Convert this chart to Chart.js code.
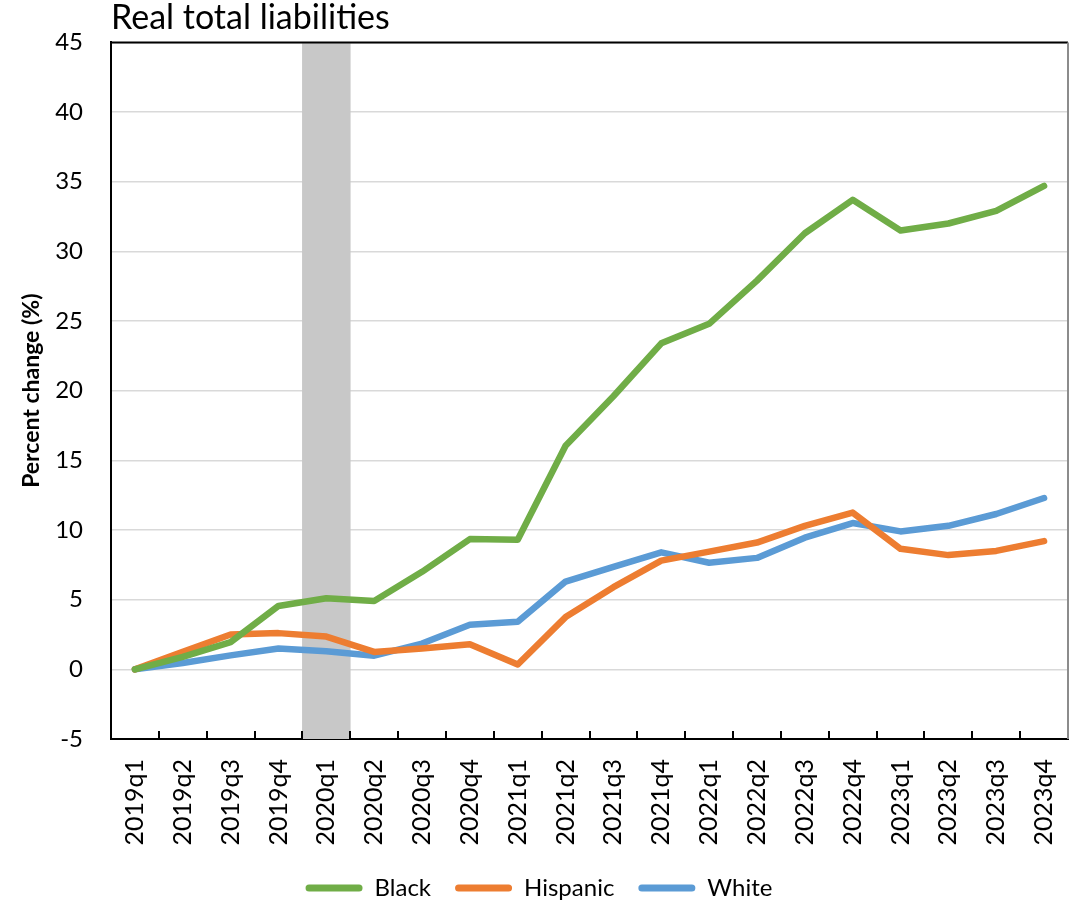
<!DOCTYPE html>
<html>
<head>
<meta charset="utf-8">
<script src="https://cdn.jsdelivr.net/npm/chart.js@4.4.1/dist/chart.umd.min.js"></script>
<style>
  body { margin: 0; background: #ffffff; }
</style>
</head>
<body>
<canvas id="grafico" width="1081" height="906"></canvas>
<script>
// quarters on the x axis
const trimestres = [
  "2019q1", "2019q2", "2019q3", "2019q4",
  "2020q1", "2020q2", "2020q3", "2020q4",
  "2021q1", "2021q2", "2021q3", "2021q4",
  "2022q1", "2022q2", "2022q3", "2022q4",
  "2023q1", "2023q2", "2023q3", "2023q4",
];

// percent change in real total liabilities since 2019q1
const black = [0, 0.9, 1.95, 4.55, 5.1, 4.9, 7.0, 9.35, 9.3, 16.05, 19.6, 23.4, 24.8, 27.9, 31.3, 33.7, 31.5, 32.0, 32.9, 34.7];
const hispanic = [0, 1.25, 2.5, 2.6, 2.35, 1.25, 1.5, 1.8, 0.35, 3.75, 5.9, 7.8, 8.45, 9.1, 10.3, 11.25, 8.65, 8.2, 8.5, 9.2];
const white = [0, 0.45, 1.0, 1.5, 1.3, 0.98, 1.85, 3.2, 3.42, 6.3, 7.35, 8.4, 7.65, 8.0, 9.45, 10.5, 9.9, 10.3, 11.15, 12.3];

// recession shading quarter
const recessao = ["2020q1"];

const yMin = -5;
const yMax = 45;
const yStep = 5;

const faixaRecessao = trimestres.map((t) => (recessao.includes(t) ? [yMin, yMax] : null));

// draws the top / right frame and the inward tick marks on the x axis
const moldura = {
  id: "moldura",
  afterDraw(chart) {
    const { ctx, chartArea } = chart;
    const x = chart.scales.x;
    const meia = (x.getPixelForValue(1) - x.getPixelForValue(0)) / 2;
    ctx.save();
    ctx.lineWidth = 2;
    ctx.strokeStyle = "#000000";
    ctx.beginPath();
    ctx.moveTo(chartArea.left, chartArea.top);
    ctx.lineTo(chartArea.right, chartArea.top);
    ctx.stroke();
    for (let i = 0; i <= trimestres.length; i++) {
      const px = Math.round(x.getPixelForValue(i) - meia);
      ctx.beginPath();
      ctx.moveTo(px, chartArea.bottom);
      ctx.lineTo(px, chartArea.bottom - 8);
      ctx.stroke();
    }
    ctx.strokeStyle = "#8c8c8c";
    ctx.beginPath();
    ctx.moveTo(chartArea.right, chartArea.top);
    ctx.lineTo(chartArea.right, chartArea.bottom);
    ctx.stroke();
    ctx.restore();
  },
};

function plotarGrafico(idGrafico) {
  const ctx = document.getElementById(idGrafico).getContext("2d");
  const linha = (label, data, cor, ordem) => ({
    type: "line",
    label: label,
    data: data,
    borderColor: cor,
    backgroundColor: cor,
    borderWidth: 6.5,
    pointRadius: 0,
    tension: 0,
    borderCapStyle: "round",
    borderJoinStyle: "round",
    order: ordem,
  });

  return new Chart(ctx, {
    type: "bar",
    data: {
      labels: trimestres,
      datasets: [
        linha("Black", black, "#70AD47", 1),
        linha("Hispanic", hispanic, "#ED7D31", 2),
        linha("White", white, "#5B9BD5", 3),
        {
          type: "bar",
          label: "Recession",
          data: faixaRecessao,
          backgroundColor: "#C8C8C8",
          barPercentage: 1,
          categoryPercentage: 1,
          order: 10,
        },
      ],
    },
    options: {
      responsive: false,
      animation: false,
      layout: {
        padding: { top: 1, left: 10, right: 13, bottom: -4 },
      },
      plugins: {
        tooltip: { enabled: false },
        title: {
          display: true,
          text: "Real total liabilities",
          align: "start",
          fullSize: false,
          color: "#000000",
          font: { family: "Lato", size: 34, weight: "normal", lineHeight: 1.0 },
          padding: { top: 0, bottom: 7 },
        },
        legend: {
          position: "bottom",
          labels: {
            color: "#000000",
            font: { family: "Lato", size: 24 },
            boxWidth: 57,
            boxHeight: 7,
            padding: 24,
            useBorderRadius: true,
            borderRadius: 3.5,
            filter: (item) => item.text !== "Recession",
            generateLabels(chart) {
              const itens = Chart.defaults.plugins.legend.labels.generateLabels(chart);
              return itens.map((it) => {
                const cor = chart.data.datasets[it.datasetIndex].borderColor;
                return { ...it, fillStyle: cor, strokeStyle: cor, lineWidth: 0 };
              });
            },
          },
        },
      },
      scales: {
        x: {
          grid: { display: true, drawOnChartArea: false, drawTicks: false },
          border: { display: true, color: "#000000", width: 2 },
          ticks: {
            color: "#000000",
            font: { family: "Lato", size: 25 },
            minRotation: 90,
            maxRotation: 90,
            padding: 20,
          },
          afterFit(scale) {
            scale.height = 113;
            scale.paddingLeft = 0;
            scale.paddingRight = 0;
          },
        },
        y: {
          min: yMin,
          max: yMax,
          grid: { color: "#D9D9D9", lineWidth: 1.5, drawTicks: false },
          border: { display: true, color: "#000000", width: 2 },
          ticks: {
            stepSize: yStep,
            color: "#000000",
            font: { family: "Lato", size: 24 },
            padding: 28,
          },
          title: {
            display: true,
            text: "Percent change (%)",
            color: "#000000",
            font: { family: "Lato", size: 23, weight: "bold", lineHeight: 1.2 },
            padding: { top: 8, bottom: 0 },
          },
          afterFit(scale) {
            scale.width = 101;
          },
        },
      },
    },
    plugins: [moldura],
  });
}

plotarGrafico("grafico");
</script>
</body>
</html>
